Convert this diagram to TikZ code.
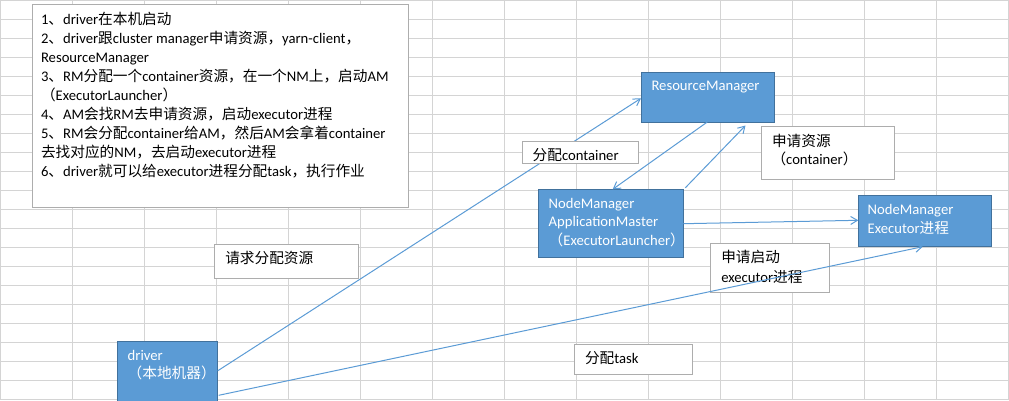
\documentclass[tikz,border=0pt]{standalone}
\usepackage{fontspec}
\setmainfont{Carlito}
\newfontfamily\cjk{Noto Sans CJK SC}
\newcommand\zh[1]{{\cjk #1}}
\usetikzlibrary{arrows.meta,calc,fit}
\definecolor{gridline}{HTML}{D4D4D4}
\definecolor{blkfill}{HTML}{5B9BD5}
\definecolor{blkline}{HTML}{41719C}
\definecolor{lblline}{HTML}{ADADAD}
\definecolor{wire}{HTML}{5B9BD5}
\begin{document}
\begin{tikzpicture}[x=0.75pt,y=-0.75pt,
  every node/.style={inner sep=0pt, outer sep=0pt},
  txt/.style={anchor=base west, font=\fontsize{11pt}{13pt}\selectfont},
  wtxt/.style={txt, text=white},
  blk/.style={draw=blkline, fill=blkfill, line width=0.75pt},
  lbl/.style={draw=lblline, fill=white, line width=0.75pt},
  link/.style={draw=wire, line width=0.75pt, -{Straight Barb[length=5pt,width=6pt]}}
]
\useasboundingbox (0,0) rectangle (1009,400);
\clip (0,0) rectangle (1009,400);

% worksheet cells
\foreach \i in {0,...,14}
  \draw[gridline, line width=0.75pt] (72*\i+0.5,0) -- (72*\i+0.5,400);
\foreach \j in {0,...,21}
  \draw[gridline, line width=0.75pt] (0,19*\j+0.5) -- (1009,19*\j+0.5);

% notes
\node[lbl, fit={(32,4) (408,207)}] (notes) {};
\node[txt] (n1) at (41,24) {1\zh{、}driver\zh{在本机启动}};
\node[txt] (n2) at (41,43) {2\zh{、}driver\zh{跟}cluster manager\zh{申请资源，}yarn-client\zh{，}};
\node[txt] (n3) at (41,62) {ResourceManager};
\node[txt] (n4) at (41,81) {3\zh{、}RM\zh{分配一个}container\zh{资源，在一个}NM\zh{上，启动}AM};
\node[txt] (n5) at (41,100) {\zh{（}ExecutorLauncher\zh{）}};
\node[txt] (n6) at (41,119) {4\zh{、}AM\zh{会找}RM\zh{去申请资源，启动}executor\zh{进程}};
\node[txt] (n7) at (41,138) {5\zh{、}RM\zh{会分配}container\zh{给}AM\zh{，然后}AM\zh{会拿着}container};
\node[txt] (n8) at (41,157) {\zh{去找对应的}NM\zh{，去启动}executor\zh{进程}};
\node[txt] (n9) at (41,176) {6\zh{、}driver\zh{就可以给}executor\zh{进程分配}task\zh{，执行作业}};

% processes
\node[blk, fit={(641,72) (774,122)}] (rm) {};
\node[wtxt] (rmt) at (651.5,90) {ResourceManager};

\node[blk, fit={(538.3,189.3) (683.3,257.3)}] (am) {};
\node[wtxt] (amt1) at (548.7,208.3) {NodeManager};
\node[wtxt] (amt2) at (548.7,226.7) {ApplicationMaster};
\node[wtxt] (amt3) at (548.7,245) {\zh{（}ExecutorLauncher\zh{）}};

\node[blk, fit={(858.3,195.3) (991.3,246)}] (ex) {};
\node[wtxt] (ext1) at (867.7,214.3) {NodeManager};
\node[wtxt] (ext2) at (867.7,233.3) {Executor\zh{进程}};

\node[blk, fit={(117.3,341.3) (217.7,420)}] (drv) {};
\node[wtxt] (drvt1) at (127.7,360) {driver};
\node[wtxt] (drvt2) at (127.7,378.5) {\zh{（本地机器）}};

% connectors
\draw[link] ($(drv.north east)+(0,29.5)$) -- ($(rm.north west)+(0,26.3)$);
\draw[link] ($(rm.south west)+(66.3,0)$) -- ($(am.north west)+(74.4,0)$);
\draw[link] ($(am.north east)+(2,-1.5)$) -- ($(rm.south west)+(104.5,3.5)$);
\draw[link] ($(am.north east)+(0,34.4)$) -- ($(ex.north west)+(0,25)$);

% labels
\node[lbl, fit={(214.3,244.3) (358.3,278.3)}] (ask) {};
\node[txt] (askt) at (225.3,263.5) {\zh{请求分配资源}};

\node[lbl, fit={(522.3,141.3) (638.3,163.3)}] (alloc) {};
\node[txt] (alloct) at (532.7,160.7) {\zh{分配}container};

\node[lbl, fit={(761.3,126.3) (894.3,179.3)}] (req) {};
\node[txt] (reqt1) at (772,146) {\zh{申请资源}};
\node[txt] (reqt2) at (771.5,164.5) {\zh{（}container\zh{）}};

\node[lbl, fit={(710.7,243.7) (829.3,292)}] (launch) {};
\node[txt] (launcht1) at (721.3,262) {\zh{申请启动}};
\node[txt] (launcht2) at (721.3,282) {executor\zh{进程}};

\node[lbl, fit={(574.3,344.3) (692.3,374.3)}] (task) {};
\node[txt] (taskt) at (585,363.5) {\zh{分配}task};

\draw[link] ($(drv.north east)+(1,54)$) -- ($(ex.south west)+(64.4,0.7)$);
\end{tikzpicture}
\end{document}
